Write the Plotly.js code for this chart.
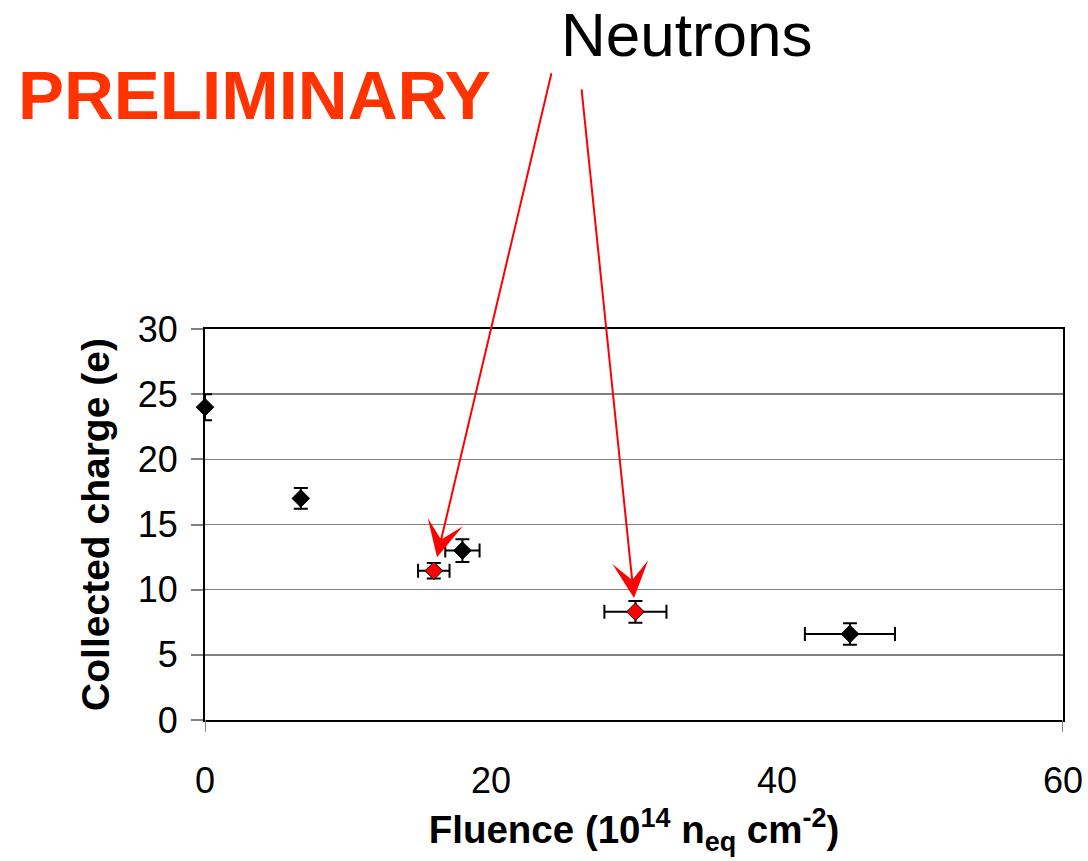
<!DOCTYPE html>
<html>
<head>
<meta charset="utf-8">
<script src="https://cdn.plot.ly/plotly-3.0.1.min.js"></script>
<style>
  html, body { margin: 0; padding: 0; background: #fff; }
  #chart { width: 1088px; height: 861px; }
</style>
</head>
<body>
<div id="chart"></div>
<script>
// Proton / pion irradiated samples
const fluence      = [0, 6.7, 18.0, 45.1];
const fluenceErr   = [0, 0, 1.2, 3.15];
const charge       = [24.0, 17.0, 13.0, 6.6];
const chargeErr    = [1.0, 0.8, 0.87, 0.82];

// Neutron irradiated samples
const nFluence     = [16.0, 30.1];
const nFluenceErr  = [1.1, 2.17];
const nCharge      = [11.45, 8.3];
const nChargeErr   = [0.6, 0.83];

const xTicks = [0, 20, 40, 60];
const yTicks = [0, 5, 10, 15, 20, 25, 30];

const FONT = '"Liberation Sans", Arial, sans-serif';

function series(x, xe, y, ye, fill) {
  return {
    type: 'scatter', mode: 'markers', x: x, y: y,
    cliponaxis: false, showlegend: false,
    marker: { symbol: 'diamond', size: 13.5, color: fill,
              line: { color: '#000', width: 1 } },
    error_x: { type: 'data', array: xe, visible: true,
               color: '#000', thickness: 2, width: 7 },
    error_y: { type: 'data', array: ye, visible: true,
               color: '#000', thickness: 2, width: 7 }
  };
}

const traces = [
  series(fluence, fluenceErr, charge, chargeErr, '#000000'),
  series(nFluence, nFluenceErr, nCharge, nChargeErr, '#FF0000')
];

// arrow tails, in pixels relative to each neutron point
const arrowTails = [[118, -499], [-54, -524]];

const annotations = [
  { xref: 'paper', yref: 'paper', x: -0.2203, y: 1.598,
    xanchor: 'left', yanchor: 'middle', showarrow: false,
    text: '<b>PRELIMINARY</b>',
    font: { family: FONT, size: 69, color: '#FF3300' } },
  { xref: 'paper', yref: 'paper', x: 0.5615, y: 1.752,
    xanchor: 'center', yanchor: 'middle', showarrow: false,
    text: 'Neutrons',
    font: { family: FONT, size: 62, color: '#000' } }
];
nFluence.forEach((fx, i) => {
  annotations.push({
    x: fx, y: nCharge[i], xref: 'x', yref: 'y',
    ax: arrowTails[i][0], ay: arrowTails[i][1],
    text: '', showarrow: true,
    arrowhead: 3, arrowsize: 3, arrowwidth: 2,
    arrowcolor: '#FF0000', standoff: 14
  });
});

// short tick marks below the plot frame at the x-axis ends
const shapes = [xTicks[0], xTicks[xTicks.length - 1]].map(v => ({
  type: 'line', xref: 'x', yref: 'paper',
  x0: v, x1: v, y0: 0, y1: -0.03,
  line: { color: '#808080', width: 2 }
}));

const layout = {
  width: 1088, height: 861,
  margin: { l: 205, r: 25, t: 329, b: 141, pad: 0 },
  paper_bgcolor: '#fff', plot_bgcolor: '#fff',
  font: { family: FONT, color: '#000' },
  xaxis: {
    range: [0, 60], tickvals: xTicks, ticks: '',
    ticklabelstandoff: 28,
    showgrid: false, zeroline: false,
    showline: true, linecolor: '#000', linewidth: 2, mirror: true,
    tickfont: { family: FONT, size: 36, color: '#000' },
    title: { text: '<b>Fluence (10<sup>14</sup> n<sub>eq</sub> cm<sup>-2</sup>)</b>',
             font: { family: FONT, size: 38.5, color: '#000' }, standoff: 16 }
  },
  yaxis: {
    range: [0, 30], tickvals: yTicks,
    ticks: 'outside', ticklen: 12, tickwidth: 2, tickcolor: '#808080',
    ticklabelstandoff: 6,
    showgrid: true, gridcolor: '#808080', gridwidth: 1.5, zeroline: false,
    showline: true, linecolor: '#000', linewidth: 2, mirror: true,
    tickfont: { family: FONT, size: 36, color: '#000' },
    title: { text: '<b>Collected charge (e)</b>',
             font: { family: FONT, size: 39, color: '#000' }, standoff: 16 }
  },
  annotations: annotations,
  shapes: shapes
};

Plotly.newPlot('chart', traces, layout, { staticPlot: true, displayModeBar: false });
</script>
</body>
</html>
